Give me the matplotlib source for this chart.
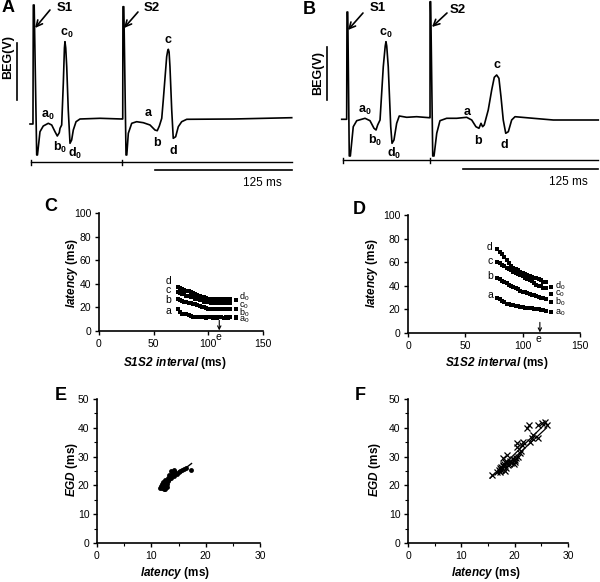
import numpy as np
import matplotlib
matplotlib.use("Agg")
import matplotlib.pyplot as plt

plt.rcParams['font.family'] = 'Liberation Sans'
plt.rcParams['mathtext.fontset'] = 'custom'
plt.rcParams['mathtext.rm'] = 'Liberation Sans'
plt.rcParams['mathtext.bf'] = 'Liberation Sans:bold'
plt.rcParams['mathtext.sf'] = 'Liberation Sans:italic:bold'

# ---------------- data ----------------
# A: electrogram, time (ms) after S1, amplitude (arb. units)
a_t = [-3.0, -0.3, 0.0, 0.8, 3.1, 3.8, 6.1, 9.1, 13.7, 16.8, 19.8, 21.9, 23.7, 24.4, 25.9,
       27.4, 28.4, 28.9, 29.6, 30.5, 31.9, 33.5, 35.0, 36.5, 39.0, 42.6, 60.9, 80.7,
       81.6, 81.8, 82.6, 84.6, 85.3, 86.7, 89.8, 94.3, 100.4, 106.5, 111.0, 113.1, 115.0,
       117.2, 118.6, 121.7, 122.6, 123.2, 123.9, 124.7, 126.3, 127.7, 129.9, 132.3, 135.4,
       140.0, 182.5, 235.8]
a_v = [-4, -4, 115, 115, -35, -35, -11.7, -6, -3.3, -5, -11.7, -16, -12.7, -8.3, -5,
       37, 72, 78.3, 72, 53.3, 10, -23.3, -20, -10, -1.7, 1, 1.7, 1,
       1, 113.3, 113.3, -35, -35, -13.3, -3.3, -1.7, -2.7, -5, -10, -10.7, -6,
       1.7, 20, 63.3, 69, 70.7, 68, 53.3, 10, -18.3, -16.7, -6.7, -1.7,
       0.7, 1, 2.3]

# B: electrogram, time (ms) after S1, amplitude (arb. units)
b_t = [-4.9, -0.3, 0.0, 0.7, 2.1, 3.1, 5.8, 9.0, 16.7, 21.3, 25.0, 26.9, 28.4, 30.6,
       33.6, 35.4, 36.1, 36.8, 38.2, 40.5, 41.7, 43.5, 46.0, 48.4, 55.3, 64.5, 76.2,
       76.9, 76.9, 77.5, 79.4, 80.6, 83.1, 86.1, 92.3, 101.6, 110.8, 115.5, 119.4, 122.2,
       124.1, 125.6, 127.1, 130.8, 134.0, 136.4, 138.6, 140.7, 142.6, 144.7, 147.0, 149.4,
       152.5, 155.6, 172.5, 191.0, 232.7]
b_v = [0.7, 0.7, 108, 108, -36, -36, -6.7, -0.7, 1.7, -0.7, -8.3, -10, -5, 0,
       53.3, 74, 78.3, 74, 53.3, -6.7, -23.3, -20, -3.3, 4, 2.7, 3.3, 2.3,
       2.3, 118.3, 118.3, -36, -36, -13.3, -0.7, 1.7, 1.7, 2.7, 0, -6.7, -8.3,
       -3.3, -6.7, -5, 10, 30, 42.7, 45, 41.7, 23.3, 0, -13.3, -11.7,
       0, 3.3, 1.7, 0, 0]

peak_names = ['a_0', 'b_0', 'c_0', 'd_0', 'a', 'b', 'c', 'd']

# C: latency (ms) vs S1S2 interval (ms)
c_s1s2 = [72, 74, 76, 78, 80, 82, 84, 86, 88, 90, 92, 94, 96, 98, 100, 102, 104, 106,
          108, 110, 112, 114, 116, 118, 120]
c_d = [37.5, 36.5, 35.5, 35, 34, 33.5, 33, 32, 31, 30.5, 29.5, 29, 28.5, 28, 27.5, 27.5,
       27.5, 27, 27.5, 27.5, 27, 27.5, 27.5, 27, 27.5]
c_c = [33, 32.5, 31.5, 31, 30, 29.5, 29, 28.5, 27.5, 27, 26.5, 26, 25, 24.5, 24.5, 24,
       24, 24, 24, 23.5, 24, 24, 23.5, 24, 24]
c_b = [27, 26.5, 25.5, 25, 25, 24, 23.5, 23, 22.5, 22, 21, 20.5, 20, 19.5, 19, 19, 19,
       19, 19, 18.5, 19, 19, 18.5, 19, 19]
c_a = [19, 16, 14, 14.5, 14, 13.5, 13, 12, 12, 11.5, 12, 11.5, 11.5, 11, 11.5, 11.5, 11,
       11.5, 11, 11.5, 11.5, 11, 11.5, 11, 11.5]
c_s1 = [26, 18.5, 12, 11]       # d0, c0, b0, a0
c_e = 110

# D: latency (ms) vs S1S2 interval (ms)
d_s1s2 = [78, 80, 82, 84, 86, 88, 90, 92, 94, 96, 98, 100, 102, 104, 106, 108, 110, 112,
          114, 116, 118, 120]
d_d = [71, 69, 67, 64.5, 62, 59.5, 57, 55.5, 54, 53, 52, 51, 50, 49, 48.5, 47.5, 47,
       46.5, 45.5, 44.5, 43.5, 43]
d_c = [60, 59, 57.5, 56.5, 55.5, 54.5, 53.5, 52, 51, 50, 49, 48, 47, 46, 45, 44, 42, 41,
       40, 39.5, 38.5, 38]
d_b = [46.5, 45.5, 44, 43, 42, 41, 40, 39, 38, 37, 36, 35, 34.5, 34, 33, 32.5, 32, 31,
       30.5, 30, 29.5, 29]
d_a = [30, 28.5, 27, 26, 25, 24.5, 24, 23.5, 23, 22.5, 22, 22, 21.5, 21.5, 21, 21, 20.5,
       20, 20, 19.5, 19.5, 19]
d_s1 = [39.2, 32.8, 26.5, 17.5]  # d0, c0, b0, a0
d_e = 115

# E: EGD (ms) vs latency (ms)
e_lat = [11.6, 11.8, 12.0, 12.2, 12.4, 12.6, 12.8, 11.9, 12.1, 12.3, 12.5, 12.7, 12.2,
         12.6, 12.9, 13.1, 13.0, 13.3, 13.5, 13.2, 13.6, 13.8, 14.0, 13.7, 14.1, 14.4,
         14.2, 14.7, 15.0, 15.3, 15.7, 16.0, 16.3, 17.3]
e_egd = [19.2, 19.8, 19.0, 20.3, 19.4, 18.9, 19.6, 20.6, 21.2, 18.7, 20.0, 20.9, 19.9,
         21.8, 20.4, 21.5, 22.6, 22.2, 23.0, 23.6, 22.4, 23.9, 24.2, 24.9, 23.3, 24.6,
         25.3, 24.1, 24.5, 24.9, 25.2, 25.8, 26.2, 25.3]
e_fit_x = [11.8, 17.4]
e_fit_y = [19.5, 27.6]

# F: EGD (ms) vs latency (ms)
f_lat = [15.7, 16.6, 17.0, 17.3, 17.6, 17.4, 17.9, 18.2, 17.9, 18.5, 18.8, 19.4, 19.8,
         20.1, 20.4, 20.4, 20.7, 21.0, 21.3, 21.6, 22.3, 22.6, 22.9, 23.2, 23.5, 24.4,
         24.4, 25.1, 25.7, 26.0, 17.2, 17.5, 17.8, 18.0, 18.3, 18.6, 19.0, 19.2, 19.6,
         20.0, 20.3, 18.1, 19.9, 21.1]
f_egd = [23.6, 24.8, 25.3, 24.8, 25.9, 26.5, 27.1, 28.2, 29.4, 30.6, 27.1, 27.7, 28.8,
         28.8, 34.6, 33.4, 30.0, 31.1, 34.0, 35.2, 39.8, 41.0, 35.2, 36.3, 37.5, 36.3,
         41.0, 41.6, 42.1, 41.0, 26.0, 25.5, 26.6, 27.5, 26.2, 28.0, 27.3, 28.4, 29.0,
         28.2, 29.6, 24.9, 27.5, 32.0]
f_fit1_x = [15.4, 25.8]
f_fit1_y = [22.5, 41.5]
f_fit2_x = [17.0, 26.0]
f_fit2_y = [24.5, 40.0]

# ---------------- figure ----------------
W, H = 600, 582
fig = plt.figure(figsize=(6, 5.82), dpi=100)


def box(x0, y0, x1, y1):
    # pixel box (top-left origin) -> figure fraction rect
    return [x0 / W, 1 - y1 / H, (x1 - x0) / W, (y1 - y0) / H]


def ftext(x, y, s, **kw):
    fig.text(x / W, 1 - y / H, s, **kw)


def trace_panel(rect, xlim, t, v, lbl_t, lbl_v, stims, axis_x, ticks_x, axis_v, bar_x,
                bar_v, beg_t, beg_v):
    ax = fig.add_axes(rect)
    ax.set_xlim(xlim)
    ax.set_ylim(-70, 120)
    ax.axis('off')
    ax.plot(t, v, color='black', lw=1.2)
    for name, x, y in zip(peak_names, lbl_t, lbl_v):
        ax.text(x, y, r'$\mathbf{%s}$' % name, fontsize=9, ha='center', va='center')
    for name, tip, tail, pos in stims:
        ax.annotate('', xy=tip, xytext=tail,
                    arrowprops=dict(arrowstyle='->', lw=1.2, color='black',
                                    shrinkA=0, shrinkB=0, mutation_scale=11))
        ax.text(pos[0], pos[1], name, fontsize=9.5, fontweight='bold', ha='center',
                va='center')
    ax.plot(axis_x, [axis_v, axis_v], color='black', lw=1.0)
    for x in ticks_x:
        ax.plot([x, x], [axis_v - 2.5, axis_v + 2.5], color='black', lw=1.0)
    ax.plot(bar_x, [bar_v, bar_v], color='black', lw=1.2)
    ax.text(bar_x[1] - 27, bar_v - 13, '125 ms', fontsize=8.5, ha='center', va='center')
    ax.plot([beg_t, beg_t], beg_v, color='black', lw=1.2, clip_on=False)
    return ax


# A
trace_panel(box(25, 0, 296, 190), (-7.57, 239.7), a_t, a_v,
            [13.4, 24.4, 30.7, 38.0, 104.7, 113.8, 122.9, 127.5],
            [5, -27, 87, -33, 7, -22, 80, -30],
            [('S1', (1.6, 92), (15.2, 110), (28.9, 112)),
             ('S2', (82.8, 92), (95.5, 108), (108.4, 112))],
            [-2.1, 236], [-2.1, 81], -42, [111, 236], -50, -14.9, [77, 20])
ftext(8, 57, 'BEG(V)', fontsize=9, fontweight='bold', rotation=90, ha='center',
      va='center')
ftext(8, 8, 'A', fontsize=13, fontweight='bold', ha='center', va='center')

# B
trace_panel(box(338, 0, 600, 190), (-8.33, 234.3), b_t, b_v,
            [16.7, 25.9, 36.1, 43.5, 112, 122.2, 138.9, 145.4],
            [10, -20, 87, -33, 8, -20, 55, -25],
            [('S1', (0.9, 90), (14.8, 107), (28.7, 112)),
             ('S2', (78.7, 93), (92.6, 107), (102.8, 110))],
            [-3.7, 232.4], [-3.7, 76.9], -40, [107.4, 232.4], -49, -18.5, [73, 20])
ftext(318, 73, 'BEG(V)', fontsize=9, fontweight='bold', rotation=90, ha='center',
      va='center')
ftext(309, 9, 'B', fontsize=13, fontweight='bold', ha='center', va='center')


def style_axes(ax):
    for s in ['top', 'right']:
        ax.spines[s].set_visible(False)
    for s in ['left', 'bottom']:
        ax.spines[s].set_linewidth(1.2)
    ax.tick_params(which='major', direction='out', length=3, width=1, labelsize=7.5,
                   pad=2.5)
    ax.tick_params(which='minor', direction='out', length=2, width=0.8)


def latency_panel(rect, x, series, s1_vals, lbl_xy, s1_lbl_y, e_x, xl_pos, yl_pos):
    ax = fig.add_axes(rect)
    for y in series:
        ax.plot(x, y, 's', color='black', ms=2.8, mew=0)
    names = ['d', 'c', 'b', 'a']
    for n, (lx, ly) in zip(names, lbl_xy):
        ax.text(lx, ly, n, fontsize=7.5, ha='center', va='center')
    ax.plot([125] * 4, s1_vals, 's', color='black', ms=3.2, mew=0)
    for n, ly in zip(names, s1_lbl_y):
        ax.text(128, ly, r'$\mathrm{%s_0}$' % n, fontsize=6.5, ha='left', va='center')
    ax.annotate('', xy=(e_x, 0.5), xytext=(e_x, 9),
                arrowprops=dict(arrowstyle='->', lw=0.8, color='black', shrinkA=0,
                                shrinkB=0, mutation_scale=6))
    ax.text(e_x - 1, -5, 'e', fontsize=7.5, ha='center', va='center', clip_on=False)
    ax.set_xlim(0, 150)
    ax.set_ylim(0, 100)
    ax.set_xticks([0, 50, 100, 150])
    ax.set_yticks([0, 20, 40, 60, 80, 100])
    style_axes(ax)
    ax.set_xlabel(r'$\mathsf{S1S2\ interval}$ (ms)', fontsize=8.5, fontweight='bold')
    ax.set_ylabel(r'$\mathsf{latency}$ (ms)', fontsize=8.5, fontweight='bold')
    ax.xaxis.set_label_coords(*xl_pos)
    ax.yaxis.set_label_coords(*yl_pos)
    ax.xaxis.label.set_va('center')
    ax.yaxis.label.set_va('center')
    return ax


# C
latency_panel(box(99, 213, 263, 331), c_s1s2, [c_d, c_c, c_b, c_a], c_s1,
              [(63.5, 42), (63.5, 34.5), (63.5, 26.5), (63.5, 17)],
              [28.8, 21.8, 15.4, 9.2], c_e, (0.463, -0.271), (-0.165, 0.49))
ftext(51, 206, 'C', fontsize=13, fontweight='bold', ha='center', va='center')

# D
latency_panel(box(408, 215, 580, 333), d_s1s2, [d_d, d_c, d_b, d_a], d_s1,
              [(71.5, 72.6), (71.5, 60.7), (71.5, 48.3), (71.5, 32)],
              [39.7, 33.4, 26.3, 17], d_e, (0.517, -0.254), (-0.209, 0.506))
ftext(359, 209, 'D', fontsize=13, fontweight='bold', ha='center', va='center')


def egd_panel(rect, xl_pos, yl_pos):
    ax = fig.add_axes(rect)
    ax.set_xlim(0, 30)
    ax.set_ylim(0, 50)
    ax.set_xticks([0, 10, 20, 30])
    ax.set_xticks([5, 15, 25], minor=True)
    ax.set_yticks([0, 10, 20, 30, 40, 50])
    ax.set_yticks([5, 15, 25, 35, 45], minor=True)
    style_axes(ax)
    ax.set_xlabel(r'$\mathsf{latency}$ (ms)', fontsize=8.5, fontweight='bold')
    ax.set_ylabel(r'$\mathsf{EGD}$ (ms)', fontsize=8.5, fontweight='bold')
    ax.xaxis.set_label_coords(*xl_pos)
    ax.yaxis.set_label_coords(*yl_pos)
    ax.xaxis.label.set_va('center')
    ax.yaxis.label.set_va('center')
    return ax


# E
ax_e = egd_panel(box(97, 399, 260, 543), (0.479, -0.208), (-0.153, 0.507))
ax_e.plot(e_lat, e_egd, 'o', color='black', ms=3.5, mew=0)
ax_e.plot(e_fit_x, e_fit_y, color='black', lw=1.0)
ftext(61, 396, 'E', fontsize=13, fontweight='bold', ha='center', va='center')

# F
ax_f = egd_panel(box(408, 399, 568, 543), (0.49, -0.21), (-0.206, 0.507))
ax_f.plot(f_lat, f_egd, 'x', color='black', ms=4, mew=0.9)
ax_f.plot(f_fit1_x, f_fit1_y, color='black', lw=0.9)
ax_f.plot(f_fit2_x, f_fit2_y, color='black', lw=0.9)
ftext(360, 396, 'F', fontsize=13, fontweight='bold', ha='center', va='center')

plt.savefig('out.png', dpi=100)
